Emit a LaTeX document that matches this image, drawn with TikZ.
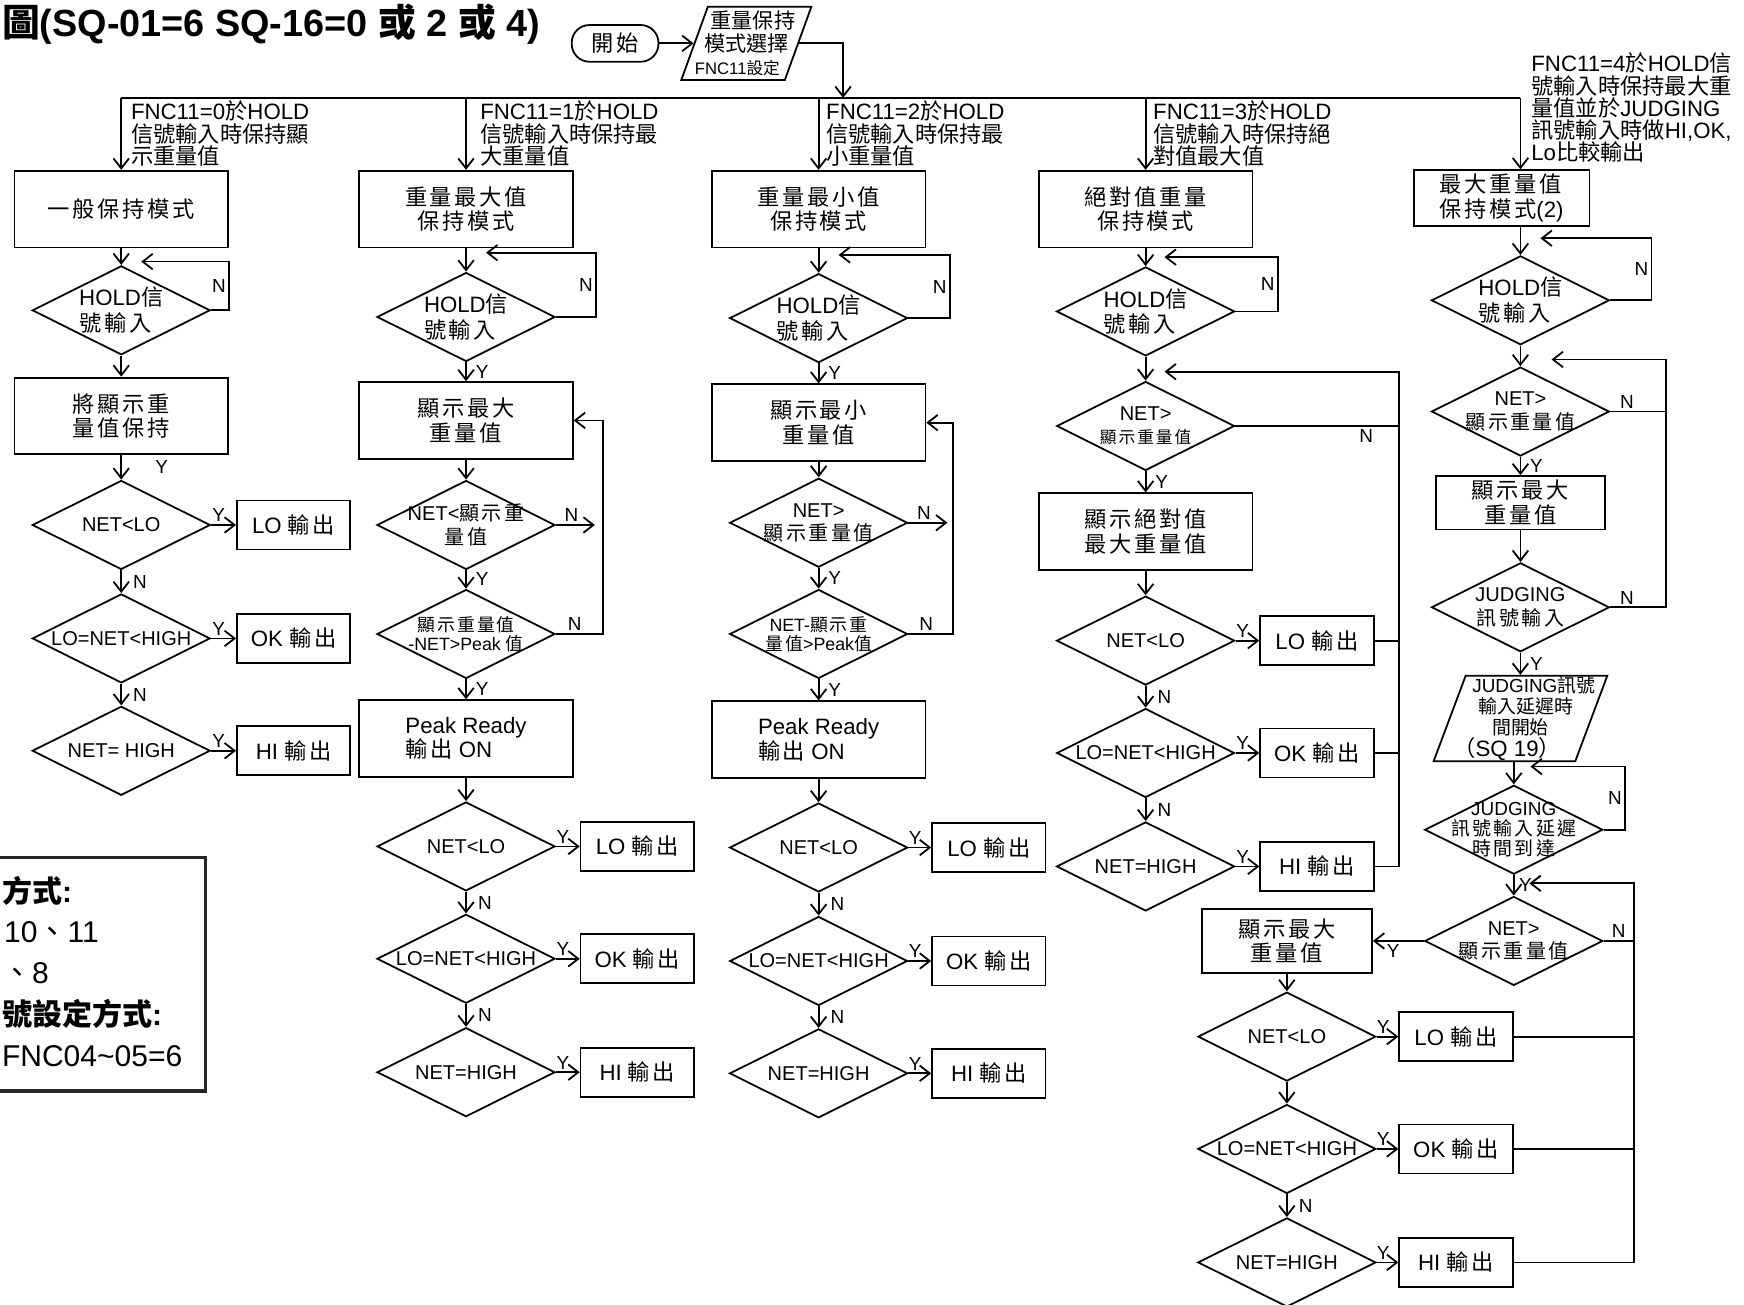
\documentclass[tikz,border=0pt]{standalone}
\usepackage{fontspec}
\setmainfont{Liberation Sans}
\newfontfamily\cjknarrow{Noto Sans CJK TC}
\newfontfamily\cjkwide{Noto Sans CJK TC}[LetterSpace=12]
\let\cjkfont\cjknarrow
% switch to the CJK family for Han characters and CJK punctuation
\XeTeXinterchartokenstate=1
\chardef\CJKcls=42
\newcount\cjkc
\cjkc="3000 \loop\XeTeXcharclass\cjkc=\CJKcls \ifnum\cjkc<"303F \advance\cjkc by 1 \repeat
\cjkc="4E00 \loop\XeTeXcharclass\cjkc=\CJKcls \ifnum\cjkc<"9FFF \advance\cjkc by 1 \repeat
\cjkc="FF00 \loop\XeTeXcharclass\cjkc=\CJKcls \ifnum\cjkc<"FFEF \advance\cjkc by 1 \repeat
\XeTeXinterchartoks 0 \CJKcls={\cjkfont}
\XeTeXinterchartoks 4095 \CJKcls={\cjkfont}
\XeTeXinterchartoks \CJKcls 0={\rmfamily}
\XeTeXinterchartoks \CJKcls 4095={\rmfamily}
\usetikzlibrary{shapes.geometric,arrows.meta,calc}

\begin{document}
\begin{tikzpicture}[x=0.5pt,y=-0.5pt,line width=0.8pt,
  arr/.style={-{Straight Barb[length=4.5pt,width=7pt]}},
  modebox/.style={draw,rectangle,inner sep=0pt,minimum width=96pt,minimum height=34.5pt,align=center,font=\fontsize{10}{11}\selectfont\let\cjkfont\cjkwide},
  outbox/.style={draw,rectangle,inner sep=0pt,minimum width=51pt,minimum height=22pt,font=\fontsize{10}{11}\selectfont\let\cjkfont\cjkwide},
  ask/.style={draw,diamond,aspect=2,inner sep=-4pt,minimum width=80pt,minimum height=40pt,align=center,font=\fontsize{9}{10.5}\selectfont\let\cjkfont\cjkwide},
  hold/.style={ask,align=left,font=\fontsize{10}{11.5}\selectfont\let\cjkfont\cjkwide},
  small/.style={font=\fontsize{8}{8.5}\selectfont\let\cjkfont\cjkwide},
  inpara/.style={draw,trapezium,trapezium left angle=68,trapezium right angle=112,trapezium stretches body=true,inner xsep=-9pt,inner ysep=0pt,minimum width=58.5pt,minimum height=33pt,align=center,font=\fontsize{9.5}{10.5}\selectfont},
  startbox/.style={draw,rectangle,rounded corners=8pt,inner sep=0pt,minimum width=39pt,minimum height=16.5pt,font=\fontsize{10}{11}\selectfont\let\cjkfont\cjkwide},
  modelab/.style={anchor=north west,align=left,inner sep=0pt,font=\fontsize{10}{10}\selectfont},
  leg/.style={anchor=west,inner sep=0pt,font=\fontsize{13.5}{16}\selectfont},
  yn/.style={inner sep=1pt,font=\fontsize{8.5}{9}\selectfont}]
% 1568 x 1173 units, white page
\useasboundingbox[fill=white] (0,0) rectangle (1568,1173);

\node[anchor=west,inner sep=0pt,font=\bfseries\fontsize{17}{20}\selectfont] (title) at (1,22) {圖(SQ-01=6 SQ-16=0 或 2 或 4)};

% start and mode selection
\node[startbox] (beg) at (553,39) {開始};
\node[inpara] (p1) at (671,39) {\hspace*{6pt}重量保持\\模式選擇\\{\fontsize{7.5}{8}\selectfont FNC11設定}\hspace*{8pt}};
\coordinate (b1) at (109,88);
\coordinate (b2) at (419,88);
\coordinate (b3) at (736,88);
\coordinate (b4) at (1030,88);
\coordinate (b5) at (1367,88);
\coordinate (bj) at (758,88);
\draw[arr] (beg) -- (p1.left side);
\draw[arr] (p1.right side) -| (bj);
\draw (b1) -- (b5);

\node[modelab] (l1) at (117,90) {FNC11=0於HOLD\\信號輸入時保持顯\\示重量值};
\node[modelab] (l2) at (431,90) {FNC11=1於HOLD\\信號輸入時保持最\\大重量值};
\node[modelab] (l3) at (742,90) {FNC11=2於HOLD\\信號輸入時保持最\\小重量值};
\node[modelab] (l4) at (1036,90) {FNC11=3於HOLD\\信號輸入時保持絕\\對值最大值};
\node[modelab] (l5) at (1376,47) {FNC11=4於HOLD信\\號輸入時保持最大重\\量值並於JUDGING\\訊號輸入時做HI,OK,\\Lo比較輸出};

% column 1
\node[modebox] (m1) at (109,188) {一般保持模式};
\node[hold] (h1) at (109,279) {HOLD信\\號輸入};
\node[modebox] (k1) at (109,374) {將顯示重\\量值保持};
\node[ask] (d1a) at (109,472) {NET<LO};
\node[outbox] (o1a) at (264,472) {LO 輸出};
\node[ask] (d1b) at (109,574) {LO=NET<HIGH};
\node[outbox] (o1b) at (264,574) {OK 輸出};
\node[ask] (d1c) at (109,675) {NET= HIGH};
\node[outbox] (o1c) at (264,675) {HI 輸出};
\draw[arr] (b1) -- (m1);
\draw[arr] (m1) -- (h1);
\draw[arr] (h1.east) -- ++(16,0) |- ($(h1.north)+(18,-3)$) node[yn,pos=0.25,left] (nh1) {N};
\draw[arr] (h1) -- (k1);
\draw[arr] (k1) -- node[yn,right=14pt] (yk1) {Y} (d1a);
\draw[arr] (d1a) -- node[yn,pos=0.3,above] (y1a) {Y} (o1a);
\draw[arr] (d1a) -- node[yn,right=4pt] (n1a) {N} (d1b);
\draw[arr] (d1b) -- node[yn,pos=0.3,above] (y1b) {Y} (o1b);
\draw[arr] (d1b) -- node[yn,right=4pt] (n1b) {N} (d1c);
\draw[arr] (d1c) -- node[yn,pos=0.3,above] (y1c) {Y} (o1c);

% column 2
\node[modebox] (m2) at (419,188) {重量最大值\\保持模式};
\node[hold] (h2) at (419,285) {HOLD信\\號輸入};
\node[modebox] (s2) at (419,378) {顯示最大\\重量值};
\node[ask] (q2) at (419,472) {NET<顯示重\\量值};
\node[ask,small] (p2) at (419,570) {顯示重量值\\-NET>Peak 值};
\node[modebox,align=left] (r2) at (419,664) {Peak Ready\\輸出 ON};
\node[ask] (d2a) at (419,761) {NET<LO};
\node[outbox] (o2a) at (573,761) {LO 輸出};
\node[ask] (d2b) at (419,862) {LO=NET<HIGH};
\node[outbox] (o2b) at (573,862) {OK 輸出};
\node[ask] (d2c) at (419,964) {NET=HIGH};
\node[outbox] (o2c) at (573,964) {HI 輸出};
\draw[arr] (b2) -- (m2);
\draw[arr] (m2) -- (h2);
\draw[arr] (h2.east) -- ++(36,0) |- ($(h2.north)+(18,-17)$) node[yn,pos=0.25,left] (nh2) {N};
\draw[arr] (h2) -- node[yn,right=3pt] (yh2) {Y} (s2);
\draw[arr] (s2) -- (q2);
\draw[arr] (q2.east) -- node[yn,pos=0.4,above] (nq2) {N} ++(35,0);
\draw[arr] (q2) -- node[yn,right=3pt] (yq2) {Y} (p2);
\draw[arr] (p2.east) -- node[yn,pos=0.4,above] (np2) {N} ++(42,0) |- (s2.east);
\draw[arr] (p2) -- node[yn,right=3pt] (yp2) {Y} (r2);
\draw[arr] (r2) -- (d2a);
\draw[arr] (d2a) -- node[yn,pos=0.3,above] (y2a) {Y} (o2a);
\draw[arr] (d2a) -- node[yn,right=4pt] (n2a) {N} (d2b);
\draw[arr] (d2b) -- node[yn,pos=0.3,above] (y2b) {Y} (o2b);
\draw[arr] (d2b) -- node[yn,right=4pt] (n2b) {N} (d2c);
\draw[arr] (d2c) -- node[yn,pos=0.3,above] (y2c) {Y} (o2c);

% column 3
\node[modebox] (m3) at (736,188) {重量最小值\\保持模式};
\node[hold] (h3) at (736,286) {HOLD信\\號輸入};
\node[modebox] (s3) at (736,380) {顯示最小\\重量值};
\node[ask] (q3) at (736,470) {NET>\\顯示重量值};
\node[ask,small] (p3) at (736,570) {NET-顯示重\\量值>Peak值};
\node[modebox,align=left] (r3) at (736,665) {Peak Ready\\輸出 ON};
\node[ask] (d3a) at (736,762) {NET<LO};
\node[outbox] (o3a) at (889,762) {LO 輸出};
\node[ask] (d3b) at (736,864) {LO=NET<HIGH};
\node[outbox] (o3b) at (889,864) {OK 輸出};
\node[ask] (d3c) at (736,965) {NET=HIGH};
\node[outbox] (o3c) at (889,965) {HI 輸出};
\draw[arr] (b3) -- (m3);
\draw[arr] (m3) -- (h3);
\draw[arr] (h3.east) -- ++(37,0) |- ($(h3.north)+(18,-16)$) node[yn,pos=0.25,left] (nh3) {N};
\draw[arr] (h3) -- node[yn,right=3pt] (yh3) {Y} (s3);
\draw[arr] (s3) -- (q3);
\draw[arr] (q3.east) -- node[yn,pos=0.4,above] (nq3) {N} ++(35,0);
\draw[arr] (q3) -- node[yn,right=3pt] (yq3) {Y} (p3);
\draw[arr] (p3.east) -- node[yn,pos=0.4,above] (np3) {N} ++(40,0) |- (s3.east);
\draw[arr] (p3) -- node[yn,right=3pt] (yp3) {Y} (r3);
\draw[arr] (r3) -- (d3a);
\draw[arr] (d3a) -- node[yn,pos=0.3,above] (y3a) {Y} (o3a);
\draw[arr] (d3a) -- node[yn,right=4pt] (n3a) {N} (d3b);
\draw[arr] (d3b) -- node[yn,pos=0.3,above] (y3b) {Y} (o3b);
\draw[arr] (d3b) -- node[yn,right=4pt] (n3b) {N} (d3c);
\draw[arr] (d3c) -- node[yn,pos=0.3,above] (y3c) {Y} (o3c);

% column 4
\node[modebox] (m4) at (1030,188) {絕對值重量\\保持模式};
\node[hold] (h4) at (1030,280) {HOLD信\\號輸入};
\node[ask] (g4) at (1030,383) {NET>\\{\fontsize{7.5}{8}\selectfont 顯示重量值}};
\node[modebox] (s4) at (1030,478) {顯示絕對值\\最大重量值};
\node[ask] (d4a) at (1030,576) {NET<LO};
\node[outbox] (o4a) at (1184,576) {LO 輸出};
\node[ask] (d4b) at (1030,677) {LO=NET<HIGH};
\node[outbox] (o4b) at (1184,677) {OK 輸出};
\node[ask] (d4c) at (1030,779) {NET=HIGH};
\node[outbox] (o4c) at (1184,779) {HI 輸出};
\coordinate (rt4) at ($(o4c.east)+(22,0)$);
\draw[arr] (b4) -- (m4);
\draw[arr] (m4) -- (h4);
\draw[arr] (h4.east) -- ++(38,0) |- ($(h4.north)+(17,-8)$) node[yn,pos=0.25,left] (nh4) {N};
\draw[arr] (h4) -- (g4);
\draw[arr] (g4) -- node[yn,right=3pt] (yg4) {Y} (s4);
\draw[arr] (s4) -- (d4a);
\draw[arr] (d4a) -- node[yn,pos=0.3,above] (y4a) {Y} (o4a);
\draw[arr] (d4a) -- node[yn,right=4pt] (n4a) {N} (d4b);
\draw[arr] (d4b) -- node[yn,pos=0.3,above] (y4b) {Y} (o4b);
\draw[arr] (d4b) -- node[yn,right=4pt] (n4b) {N} (d4c);
\draw[arr] (d4c) -- node[yn,pos=0.3,above] (y4c) {Y} (o4c);
\draw[arr] (o4c.east) -- (rt4) |- ($(g4.north)+(17,-8)$);
\draw (g4.east) -- node[yn,pos=0.8,below] (ng4) {N} (g4.east -| rt4);
\draw (o4a.east) -- (o4a.east -| rt4);
\draw (o4b.east) -- (o4b.east -| rt4);

% column 5
\node[modebox,align=left,minimum width=79pt,minimum height=25pt] (m5) at (1350,178) {最大重量值\\保持模式(2)};
\node[hold] (h5) at (1367,270) {HOLD信\\號輸入};
\node[ask] (g5) at (1367,370) {NET>\\顯示重量值};
\node[modebox,minimum width=76pt,minimum height=24pt] (s5) at (1367,452) {顯示最大\\重量值};
\node[ask] (j5) at (1367,546) {JUDGING\\訊號輸入};
\node[inpara,trapezium left angle=69,trapezium right angle=111,minimum width=77pt,minimum height=38.5pt,font=\fontsize{8.5}{9.5}\selectfont] (t5) at (1367,646) {\hspace*{12pt}JUDGING訊號\\\hspace*{5pt}輸入延遲時\\間開始\\{\fontsize{10}{10}\selectfont（SQ 19）}\hspace*{12pt}};
\node[ask,inner sep=-6pt,font=\fontsize{8.5}{9}\selectfont\let\cjkfont\cjkwide] (k5) at (1361,746) {JUDGING\\訊號輸入延遲\\時間到達};
\node[ask] (g6) at (1361,846) {NET>\\顯示重量值};
\node[modebox,minimum width=76.5pt,minimum height=29pt] (s6) at (1157,846) {顯示最大\\重量值};
\node[ask] (d6a) at (1157,932) {NET<LO};
\node[outbox] (o6a) at (1309,932) {LO 輸出};
\node[ask] (d6b) at (1157,1033) {LO=NET<HIGH};
\node[outbox] (o6b) at (1309,1033) {OK 輸出};
\node[ask] (d6c) at (1157,1135) {NET=HIGH};
\node[outbox] (o6c) at (1309,1135) {HI 輸出};
\coordinate (rt5) at ($(j5.east)+(50,0)$);
\coordinate (rt6) at ($(o6c.east)+(108,0)$);
\draw[arr] (b5) -- (b5 |- m5.north);
\draw[arr] (h5.north |- m5.south) -- (h5);
\draw[arr] (h5.east) -- ++(37,0) |- ($(h5.north)+(18,-15)$) node[yn,pos=0.25,left] (nh5) {N};
\draw[arr] (h5) -- (g5);
\draw[arr] (g5) -- node[yn,right=3pt] (yg5) {Y} (s5);
\draw[arr] (s5) -- (j5);
\draw[arr] (j5.east) -- node[yn,pos=0.3,above] (nj5) {N} (rt5) |- ($(g5.north)+(28,-6)$);
\draw (g5.east) -- node[yn,pos=0.3,above] (ng5) {N} (g5.east -| rt5);
\draw[arr] (j5) -- node[yn,right=3pt] (yj5) {Y} (j5.south |- t5.top side);
\draw[arr] (k5.north |- t5.bottom side) -- (k5);
\draw[arr] (k5.east) -- ++(19,0) |- ($(k5.north)+(15,-16)$) node[yn,pos=0.25,left] (nk5) {N};
\draw[arr] (k5) -- node[yn,right=1pt] (yk5) {Y} (g6);
\draw[arr] (g6) -- node[yn,pos=0.6,below] (yg6) {Y} (s6);
\draw[arr] (s6) -- (d6a);
\draw[arr] (d6a) -- node[yn,pos=0.3,above] (y6a) {Y} (o6a);
\draw[arr] (d6a) -- (d6b);
\draw[arr] (d6b) -- node[yn,pos=0.3,above] (y6b) {Y} (o6b);
\draw[arr] (d6b) -- node[yn,right=4pt] (n6b) {N} (d6c);
\draw[arr] (d6c) -- node[yn,pos=0.3,above] (y6c) {Y} (o6c);
\draw[arr] (o6c.east) -- (rt6) |- ($(g6.north)+(14,-11)$);
\draw (g6.east) -- node[yn,pos=0.5,above] (ng6) {N} (g6.east -| rt6);
\draw (o6a.east) -- (o6a.east -| rt6);
\draw (o6b.east) -- (o6b.east -| rt6);

% legend, its frame cut at the left edge
\draw[line width=1.5pt,draw=black!85] (-10,771) rectangle (185,981);
\node[leg] (lg1) at (1,801) {\textbf{方式:}};
\node[leg] (lg2) at (3,838) {10、11};
\node[leg] (lg3) at (1,875) {、8};
\node[leg] (lg4) at (1,912) {\textbf{號設定方式:}};
\node[leg] (lg5) at (1,950) {FNC04\textasciitilde 05=6};
\end{tikzpicture}
\end{document}
